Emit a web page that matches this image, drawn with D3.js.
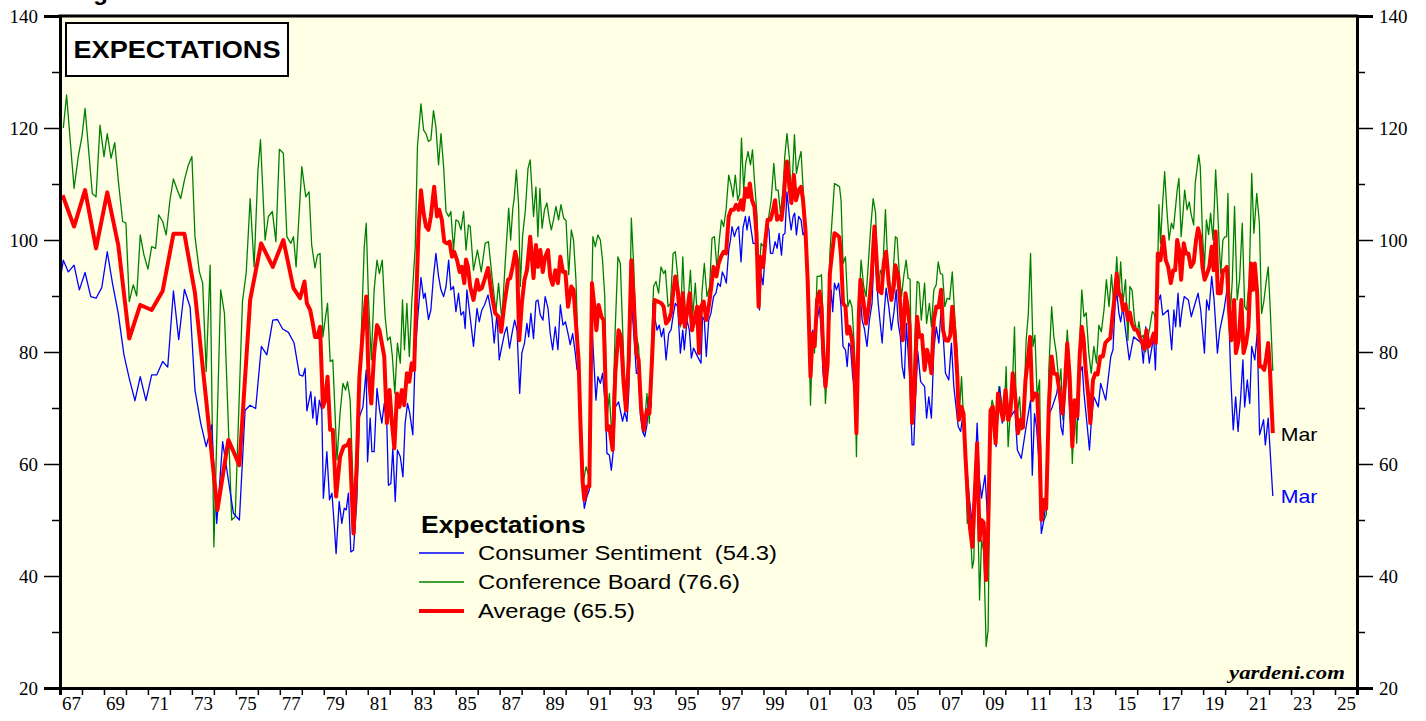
<!DOCTYPE html>
<html>
<head>
<meta charset="utf-8">
<script src="https://cdn.jsdelivr.net/npm/d3@7"></script>
<style>
  body { margin: 0; background: #fff; }
  svg { display: block; }
</style>
</head>
<body>
<svg id="chart" width="1426" height="721"></svg>
<script>
// Consumer Sentiment expectations, [year, value]
const sentiment = [
  [1967.0,92.6],[1967.15,96.4],[1967.38,94.3],[1967.64,95.5],[1967.88,91.1],[1968.14,94.2],[1968.4,89.9],[1968.64,89.6],[1968.9,91.5],
  [1969.15,97.9],[1969.4,92.0],[1969.65,86.9],[1969.91,79.5],[1970.15,75.3],[1970.41,71.3],[1970.65,75.6],[1970.91,71.3],
  [1971.17,75.9],[1971.4,75.9],[1971.67,78.3],[1971.9,77.3],[1972.16,90.9],[1972.4,82.2],[1972.66,91.2],[1972.92,88.0],
  [1973.14,73.2],[1973.4,67.3],[1973.65,63.1],[1973.9,67.0],[1974.13,49.4],[1974.4,64.0],[1974.66,57.1],[1974.89,51.2],
  [1975.16,50.0],[1975.42,69.6],[1975.65,70.5],[1975.9,69.9],[1976.16,81.0],[1976.41,79.5],[1976.68,85.7],[1976.89,85.8],
  [1977.13,84.1],[1977.39,83.5],[1977.65,81.6],[1977.89,75.9],[1978.05,75.7],[1978.15,77.1],[1978.23,69.5],[1978.41,72.9],
  [1978.5,68.2],[1978.6,72.0],[1978.68,67.0],[1978.8,71.4],[1978.91,69.6],[1978.98,53.9],[1979.14,62.2],[1979.26,53.6],
  [1979.37,54.8],[1979.47,49.4],[1979.56,44.0],[1979.7,53.3],[1979.82,49.4],[1979.93,52.1],[1980.02,51.8],[1980.12,54.8],
  [1980.23,44.3],[1980.35,44.6],[1980.5,53.3],[1980.62,68.4],[1980.78,70.2],[1980.93,76.8],[1980.99,60.4],[1981.11,68.2],
  [1981.19,62.2],[1981.29,62.2],[1981.42,73.5],[1981.53,69.9],[1981.64,67.3],[1981.75,70.8],[1981.87,66.7],[1981.94,56.2],
  [1982.05,56.5],[1982.14,62.8],[1982.25,53.3],[1982.35,62.5],[1982.48,61.3],[1982.6,57.7],[1982.7,67.3],[1982.81,70.8],
  [1982.9,69.3],[1983.05,65.2],[1983.16,79.8],[1983.26,85.4],[1983.42,93.3],[1983.54,89.6],[1983.61,90.5],[1983.76,85.8],
  [1983.87,87.5],[1983.99,93.5],[1984.1,97.6],[1984.22,93.5],[1984.33,91.1],[1984.45,89.9],[1984.56,91.7],[1984.68,96.4],
  [1984.78,91.1],[1984.9,91.7],[1985.01,87.2],[1985.13,90.5],[1985.24,86.6],[1985.36,87.2],[1985.43,84.2],[1985.51,91.1],
  [1985.62,87.5],[1985.81,81.0],[1985.97,87.8],[1986.07,85.4],[1986.19,87.5],[1986.31,88.4],[1986.47,90.2],[1986.65,86.3],
  [1986.75,81.6],[1986.88,86.9],[1986.98,78.6],[1987.1,81.0],[1987.22,83.3],[1987.33,84.5],[1987.45,80.7],[1987.56,83.3],
  [1987.68,85.7],[1987.79,83.9],[1987.91,72.6],[1988.01,79.8],[1988.13,81.6],[1988.24,85.1],[1988.32,82.7],[1988.42,86.9],
  [1988.54,82.4],[1988.65,89.0],[1988.74,89.3],[1988.85,86.6],[1988.97,85.7],[1989.07,89.9],[1989.2,87.8],[1989.3,83.3],
  [1989.41,80.4],[1989.53,84.5],[1989.65,80.4],[1989.76,88.4],[1989.88,84.8],[1989.99,85.4],[1990.11,83.3],[1990.21,81.3],
  [1990.32,83.3],[1990.44,79.8],[1990.52,76.8],[1990.59,77.4],[1990.67,64.9],[1990.77,56.0],[1990.85,52.1],[1990.97,54.2],
  [1991.08,55.4],[1991.2,84.5],[1991.38,71.4],[1991.47,75.6],[1991.58,74.4],[1991.68,76.2],[1991.81,70.2],[1991.88,61.9],
  [1991.99,61.6],[1992.08,58.9],[1992.18,62.8],[1992.26,70.2],[1992.41,71.1],[1992.59,67.6],[1992.69,69.3],[1992.79,67.6],
  [1992.87,72.6],[1992.99,89.3],[1993.1,83.3],[1993.22,76.2],[1993.32,76.2],[1993.4,68.8],[1993.5,65.8],[1993.6,64.9],
  [1993.7,67.0],[1993.78,72.0],[1993.89,70.2],[1993.98,88.7],[1994.05,86.3],[1994.16,83.9],[1994.26,84.8],[1994.36,82.7],
  [1994.46,84.2],[1994.57,78.6],[1994.69,83.3],[1994.8,84.0],[1994.89,86.5],[1994.99,88.7],[1995.1,88.1],[1995.22,79.8],
  [1995.33,83.9],[1995.4,80.4],[1995.52,85.7],[1995.63,83.9],[1995.72,78.9],[1995.82,80.7],[1995.93,79.8],[1996.04,78.9],
  [1996.16,78.0],[1996.23,86.3],[1996.31,85.7],[1996.4,79.2],[1996.51,85.7],[1996.61,86.9],[1996.73,89.9],[1996.84,90.5],
  [1996.93,92.3],[1997.04,91.7],[1997.13,94.3],[1997.22,93.5],[1997.31,92.3],[1997.42,98.2],[1997.5,100.0],[1997.57,102.4],
  [1997.68,100.6],[1997.77,101.8],[1997.87,102.4],[1997.98,96.1],[1998.07,102.1],[1998.18,104.2],[1998.25,101.8],[1998.35,104.2],
  [1998.44,101.8],[1998.53,99.4],[1998.63,99.4],[1998.74,96.4],[1998.82,87.5],[1998.89,94.0],[1998.98,92.0],[1999.06,96.4],
  [1999.16,103.6],[1999.25,101.8],[1999.32,97.6],[1999.42,97.6],[1999.53,99.7],[1999.62,98.5],[1999.71,101.2],[1999.82,97.3],
  [1999.89,100.9],[1999.98,101.2],[2000.07,108.6],[2000.18,104.2],[2000.26,101.8],[2000.35,104.2],[2000.42,104.8],[2000.5,100.9],
  [2000.6,104.2],[2000.71,103.6],[2000.8,100.9],[2000.91,101.8],[2001.01,91.7],[2001.14,80.4],[2001.24,83.9],[2001.33,82.1],
  [2001.44,85.7],[2001.55,88.1],[2001.64,82.7],[2001.71,76.2],[2001.78,73.8],[2001.9,76.8],[2002.0,85.7],[2002.08,91.1],
  [2002.15,87.2],[2002.23,92.3],[2002.32,91.1],[2002.42,92.3],[2002.53,88.1],[2002.62,81.0],[2002.73,80.4],[2002.81,77.4],
  [2002.88,81.6],[2002.96,81.0],[2003.06,75.6],[2003.14,73.2],[2003.22,69.6],[2003.3,70.5],[2003.38,91.1],[2003.49,85.7],
  [2003.59,84.2],[2003.71,81.0],[2003.82,85.7],[2003.94,88.7],[2004.05,100.0],[2004.14,93.5],[2004.22,88.7],[2004.4,81.6],
  [2004.5,87.5],[2004.58,91.4],[2004.7,88.1],[2004.82,83.9],[2004.93,86.9],[2005.04,91.1],[2005.13,85.1],[2005.23,82.7],
  [2005.31,77.4],[2005.41,75.3],[2005.5,85.1],[2005.66,75.0],[2005.76,63.4],[2005.84,63.4],[2005.92,72.0],[2006.02,80.1],
  [2006.15,74.7],[2006.33,73.8],[2006.42,68.2],[2006.52,72.0],[2006.64,68.2],[2006.75,80.4],[2006.86,84.5],[2006.98,81.6],
  [2007.08,87.5],[2007.17,83.3],[2007.28,76.2],[2007.43,75.0],[2007.55,81.6],[2007.66,73.8],[2007.86,66.7],[2007.97,65.8],
  [2008.08,69.0],[2008.17,63.7],[2008.27,58.3],[2008.37,53.6],[2008.5,49.4],[2008.6,56.0],[2008.72,67.3],[2008.83,57.1],
  [2008.92,53.9],[2009.08,58.0],[2009.19,50.6],[2009.37,69.6],[2009.58,63.1],[2009.67,69.0],[2009.75,73.8],[2009.86,67.3],
  [2010.05,70.2],[2010.24,68.4],[2010.44,69.6],[2010.55,62.5],[2010.73,61.0],[2010.95,66.7],[2011.15,71.4],[2011.23,58.0],
  [2011.33,69.0],[2011.42,66.7],[2011.52,61.3],[2011.64,47.6],[2011.73,49.4],[2011.83,52.4],[2012.01,69.0],[2012.14,70.2],
  [2012.34,72.6],[2012.41,74.4],[2012.53,66.7],[2012.62,65.2],[2012.82,79.2],[2012.93,69.0],[2013.05,63.7],[2013.16,70.2],
  [2013.32,67.9],[2013.39,76.2],[2013.5,77.4],[2013.58,72.6],[2013.7,67.9],[2013.83,62.5],[2013.91,67.3],[2014.03,72.0],
  [2014.23,70.2],[2014.34,74.4],[2014.57,71.4],[2014.8,79.2],[2014.9,80.4],[2014.99,88.1],[2015.07,90.8],[2015.17,86.9],
  [2015.25,85.4],[2015.35,88.1],[2015.45,84.5],[2015.64,78.6],[2015.84,82.7],[2016.19,81.6],[2016.28,78.0],[2016.39,84.5],
  [2016.55,78.0],[2016.75,82.7],[2016.83,76.8],[2016.93,88.7],[2017.06,90.2],[2017.16,86.6],[2017.41,87.5],[2017.57,80.4],
  [2017.67,87.5],[2017.75,84.5],[2017.86,90.5],[2017.95,84.5],[2018.04,87.5],[2018.14,89.9],[2018.33,89.3],[2018.46,86.3],
  [2018.77,90.5],[2018.89,87.5],[2019.06,79.8],[2019.16,89.3],[2019.27,87.5],[2019.39,93.5],[2019.5,89.3],[2019.65,79.8],
  [2019.76,83.9],[2019.95,87.5],[2020.13,92.3],[2020.25,76.2],[2020.37,66.1],[2020.48,72.0],[2020.59,65.8],[2020.71,72.0],
  [2020.81,78.6],[2020.89,70.2],[2021.01,75.0],[2021.12,70.8],[2021.21,81.0],[2021.35,78.6],[2021.46,83.3],[2021.57,65.2],
  [2021.75,67.9],[2021.83,63.4],[2021.96,68.2],[2022.17,54.3]
];

// Conference Board expectations, [year, value]
const board = [
  [1967.15,120.0],[1967.3,125.9],[1967.64,109.2],[1967.83,114.9],[1968.0,118.5],[1968.14,123.5],[1968.47,108.3],[1968.64,107.7],
  [1968.82,120.5],[1969.0,114.9],[1969.15,119.0],[1969.32,114.6],[1969.49,117.4],[1969.65,110.7],[1969.85,103.3],[1970.0,103.0],
  [1970.15,89.0],[1970.33,92.0],[1970.49,90.0],[1970.65,100.9],[1970.82,97.3],[1971.0,94.8],[1971.17,98.8],[1971.35,98.5],
  [1971.49,104.5],[1971.67,103.3],[1971.83,100.9],[1972.0,107.1],[1972.16,110.9],[1972.34,108.9],[1972.49,107.4],[1972.66,110.7],
  [1972.84,113.4],[1973.0,114.9],[1973.14,100.6],[1973.34,94.3],[1973.49,92.3],[1973.65,76.5],[1973.83,95.5],[1974.0,45.2],
  [1974.31,91.1],[1974.48,86.9],[1974.81,50.0],[1974.97,50.6],[1975.3,89.0],[1975.47,94.1],[1975.65,107.4],[1975.83,95.2],
  [1976.0,112.2],[1976.12,117.9],[1976.33,100.0],[1976.48,104.2],[1976.66,105.1],[1976.82,99.7],[1976.98,116.2],[1977.16,115.5],
  [1977.32,100.6],[1977.5,99.4],[1977.62,100.6],[1977.74,95.2],[1978.0,113.1],[1978.18,107.7],[1978.33,108.6],[1978.45,99.1],
  [1978.6,95.0],[1978.71,97.3],[1978.83,97.6],[1978.96,82.7],[1979.06,85.7],[1979.17,88.7],[1979.29,78.3],[1979.41,78.6],
  [1979.6,60.7],[1979.74,69.1],[1979.87,74.4],[1979.99,73.2],[1980.08,74.7],[1980.2,71.4],[1980.4,47.6],[1980.53,64.3],
  [1980.69,81.6],[1980.84,98.8],[1980.93,103.0],[1981.03,89.9],[1981.16,78.6],[1981.29,91.1],[1981.42,96.4],[1981.53,94.0],
  [1981.66,96.4],[1981.79,86.3],[1981.9,82.1],[1982.02,82.7],[1982.12,79.2],[1982.23,72.6],[1982.35,81.6],[1982.48,78.0],
  [1982.58,89.3],[1982.67,80.4],[1982.78,88.7],[1982.89,79.2],[1983.0,88.7],[1983.16,98.8],[1983.26,116.7],[1983.42,124.3],
  [1983.54,119.6],[1983.65,119.0],[1983.76,117.6],[1983.87,117.9],[1983.99,123.1],[1984.1,120.2],[1984.22,113.4],[1984.33,119.0],
  [1984.45,113.1],[1984.56,105.1],[1984.68,104.2],[1984.78,105.1],[1984.9,98.2],[1985.01,103.6],[1985.13,103.3],[1985.24,101.8],
  [1985.36,105.1],[1985.47,98.2],[1985.58,102.7],[1985.66,102.4],[1985.81,94.6],[1985.99,98.2],[1986.16,94.3],[1986.34,99.4],
  [1986.49,99.7],[1986.65,93.5],[1986.83,87.2],[1986.95,92.3],[1987.1,85.7],[1987.26,96.4],[1987.41,105.7],[1987.5,100.0],
  [1987.6,105.7],[1987.66,107.4],[1987.76,112.5],[1987.86,106.3],[1987.94,91.7],[1988.04,100.6],[1988.17,105.4],[1988.29,112.8],
  [1988.39,114.3],[1988.54,104.2],[1988.65,109.5],[1988.74,100.6],[1988.83,109.2],[1988.93,102.1],[1989.04,105.4],[1989.15,106.6],
  [1989.26,103.6],[1989.35,101.8],[1989.45,103.6],[1989.56,106.0],[1989.68,103.6],[1989.79,106.3],[1989.91,103.9],[1990.02,103.5],
  [1990.14,93.8],[1990.26,101.8],[1990.36,100.0],[1990.47,92.9],[1990.59,77.4],[1990.67,68.4],[1990.82,57.1],[1990.93,59.5],
  [1991.05,58.0],[1991.17,85.7],[1991.24,100.6],[1991.35,98.8],[1991.47,100.9],[1991.58,100.0],[1991.68,96.4],[1991.78,90.0],
  [1991.88,67.9],[1991.99,72.6],[1992.11,64.3],[1992.26,84.5],[1992.38,97.0],[1992.49,95.8],[1992.59,84.5],[1992.69,73.8],
  [1992.79,69.6],[1992.9,83.3],[1992.99,103.9],[1993.1,95.2],[1993.2,83.3],[1993.32,81.0],[1993.43,71.4],[1993.55,65.5],
  [1993.7,72.6],[1993.81,67.3],[1993.9,79.8],[1994.0,91.7],[1994.11,92.6],[1994.23,90.5],[1994.34,95.2],[1994.46,94.0],
  [1994.54,94.6],[1994.66,88.1],[1994.77,88.7],[1994.89,97.6],[1994.99,97.9],[1995.1,93.5],[1995.22,84.5],[1995.33,97.0],
  [1995.45,85.7],[1995.55,88.1],[1995.68,94.6],[1995.78,86.3],[1995.9,92.3],[1996.01,85.1],[1996.13,81.0],[1996.2,90.5],
  [1996.31,95.8],[1996.43,89.9],[1996.55,91.7],[1996.66,100.3],[1996.77,100.6],[1996.89,94.6],[1996.99,100.0],[1997.09,103.6],
  [1997.19,102.4],[1997.3,105.4],[1997.42,111.6],[1997.53,109.8],[1997.62,107.7],[1997.72,111.6],[1997.83,107.1],[1997.92,108.3],
  [1998.0,118.2],[1998.1,108.9],[1998.19,113.7],[1998.3,115.8],[1998.41,113.4],[1998.5,116.1],[1998.6,110.1],[1998.71,104.2],
  [1998.78,92.3],[1998.89,99.4],[1999.01,98.8],[1999.13,100.0],[1999.24,104.2],[1999.35,107.1],[1999.47,113.7],[1999.57,108.9],
  [1999.67,108.9],[1999.77,104.8],[1999.89,108.9],[1999.97,114.9],[2000.07,119.0],[2000.18,114.6],[2000.27,107.1],[2000.41,118.8],
  [2000.5,111.9],[2000.6,114.0],[2000.71,115.8],[2000.8,109.5],[2000.91,103.0],[2001.01,92.9],[2001.14,70.5],[2001.24,83.3],
  [2001.32,79.8],[2001.44,93.5],[2001.55,93.5],[2001.64,93.8],[2001.71,85.7],[2001.82,70.8],[2001.92,78.6],[2002.02,97.6],
  [2002.12,103.6],[2002.23,110.1],[2002.35,109.8],[2002.46,109.5],[2002.53,107.1],[2002.62,95.8],[2002.73,97.0],[2002.84,88.1],
  [2002.93,89.3],[2003.03,88.0],[2003.14,80.4],[2003.23,61.3],[2003.34,88.1],[2003.44,96.4],[2003.56,91.7],[2003.67,89.9],
  [2003.76,95.2],[2003.87,101.8],[2003.99,107.4],[2004.1,104.8],[2004.22,91.1],[2004.32,94.6],[2004.42,94.0],[2004.55,105.4],
  [2004.65,95.8],[2004.78,89.3],[2004.88,92.9],[2005.0,100.6],[2005.08,100.3],[2005.18,94.0],[2005.28,89.9],[2005.38,93.5],
  [2005.49,96.4],[2005.58,93.2],[2005.67,93.0],[2005.76,67.9],[2005.87,80.4],[2005.99,92.6],[2006.08,92.3],[2006.18,85.7],
  [2006.33,92.3],[2006.42,85.1],[2006.55,88.7],[2006.64,84.5],[2006.75,91.1],[2006.86,92.0],[2006.95,96.1],[2007.05,94.0],
  [2007.15,93.8],[2007.25,88.1],[2007.36,89.6],[2007.47,89.4],[2007.59,94.3],[2007.71,85.7],[2007.82,79.8],[2007.89,67.9],
  [2008.01,75.6],[2008.09,69.0],[2008.19,61.9],[2008.27,49.4],[2008.37,51.2],[2008.5,41.4],[2008.57,42.9],[2008.69,63.1],
  [2008.83,35.7],[2008.92,46.4],[2009.02,44.5],[2009.13,27.4],[2009.22,30.4],[2009.33,69.0],[2009.4,71.4],[2009.49,70.0],
  [2009.58,65.5],[2009.71,73.8],[2009.8,72.0],[2009.94,67.9],[2010.04,77.4],[2010.13,63.1],[2010.24,70.0],[2010.34,75.6],
  [2010.42,84.5],[2010.51,67.9],[2010.65,72.0],[2010.74,66.1],[2010.84,70.0],[2010.95,82.1],[2011.05,86.9],[2011.15,97.6],
  [2011.26,81.0],[2011.35,83.0],[2011.45,72.0],[2011.56,75.0],[2011.64,50.6],[2011.76,50.0],[2011.87,51.0],[2011.98,76.8],
  [2012.11,88.1],[2012.21,82.7],[2012.32,79.8],[2012.45,74.0],[2012.53,77.0],[2012.62,67.9],[2012.71,76.2],[2012.82,83.9],
  [2012.93,77.0],[2013.05,60.1],[2013.16,71.4],[2013.25,63.7],[2013.39,82.1],[2013.48,91.1],[2013.58,86.3],[2013.68,87.0],
  [2013.8,79.8],[2013.91,76.2],[2014.03,81.0],[2014.15,78.0],[2014.26,84.8],[2014.37,83.6],[2014.49,87.5],[2014.6,92.9],
  [2014.72,88.1],[2014.83,93.8],[2014.95,88.0],[2015.07,97.0],[2015.17,89.9],[2015.25,96.1],[2015.35,88.7],[2015.47,92.9],
  [2015.58,82.1],[2015.67,91.7],[2015.77,91.0],[2015.88,85.7],[2016.0,83.3],[2016.08,85.4],[2016.18,82.5],[2016.28,83.0],
  [2016.38,80.0],[2016.48,82.5],[2016.58,84.5],[2016.69,87.2],[2016.78,86.8],[2016.88,84.5],[2016.99,106.3],[2017.06,99.4],
  [2017.15,106.0],[2017.25,112.2],[2017.34,106.0],[2017.45,100.0],[2017.56,103.0],[2017.65,102.0],[2017.75,106.0],[2017.82,108.9],
  [2017.9,111.0],[2018.0,100.6],[2018.08,104.5],[2018.16,108.9],[2018.27,105.4],[2018.37,106.8],[2018.46,104.5],[2018.57,102.7],
  [2018.64,110.1],[2018.8,115.2],[2018.87,113.1],[2018.97,101.2],[2019.06,94.9],[2019.15,103.6],[2019.25,101.0],[2019.34,104.8],
  [2019.45,100.0],[2019.57,112.5],[2019.65,106.3],[2019.72,100.0],[2019.8,94.0],[2019.9,100.0],[2019.98,100.5],[2020.07,100.6],
  [2020.13,108.3],[2020.22,85.7],[2020.33,93.0],[2020.43,106.0],[2020.55,89.3],[2020.66,93.0],[2020.78,103.0],[2020.89,88.1],
  [2020.98,87.5],[2021.1,93.0],[2021.21,111.9],[2021.31,101.2],[2021.44,108.3],[2021.56,103.0],[2021.66,86.9],[2021.76,89.0],
  [2021.86,92.3],[2021.96,95.2],[2022.05,88.0],[2022.17,76.6]
];

// Average of the two, [year, value]
const average = [
  [1967.12,108.0],[1967.64,102.4],[1968.14,108.9],[1968.64,98.5],[1969.15,108.5],[1969.65,99.1],[1970.15,82.4],[1970.65,88.4],
  [1971.17,87.5],[1971.67,90.9],[1972.16,101.1],[1972.66,101.1],[1973.14,90.5],[1973.65,71.4],[1974.16,51.8],[1974.66,64.3],
  [1975.16,59.8],[1975.65,89.3],[1976.15,99.4],[1976.68,95.2],[1977.16,100.0],[1977.62,91.4],[1977.92,89.6],[1978.12,92.6],
  [1978.23,88.7],[1978.38,87.5],[1978.5,85.1],[1978.6,82.7],[1978.71,82.7],[1978.83,84.5],[1978.96,70.2],[1979.06,71.4],
  [1979.17,75.6],[1979.29,66.1],[1979.41,66.1],[1979.56,54.2],[1979.74,61.3],[1979.9,63.1],[1980.08,63.4],[1980.17,64.3],
  [1980.35,47.6],[1980.5,60.1],[1980.62,75.6],[1980.78,83.9],[1980.93,89.9],[1981.03,76.2],[1981.16,70.8],[1981.29,79.8],
  [1981.42,84.8],[1981.53,83.9],[1981.64,81.6],[1981.75,79.2],[1981.87,67.3],[1981.99,73.2],[1982.1,67.3],[1982.21,62.8],
  [1982.33,72.6],[1982.44,70.2],[1982.55,73.2],[1982.66,70.5],[1982.78,76.2],[1982.89,74.7],[1983.0,78.0],[1983.11,76.8],
  [1983.2,88.7],[1983.31,101.8],[1983.42,108.9],[1983.54,104.8],[1983.65,102.4],[1983.76,101.8],[1983.87,104.2],[1984.02,109.5],
  [1984.15,104.2],[1984.25,105.4],[1984.37,103.6],[1984.48,99.7],[1984.6,99.4],[1984.72,99.7],[1984.83,97.0],[1984.93,97.9],
  [1985.06,96.4],[1985.18,94.3],[1985.28,95.2],[1985.39,92.3],[1985.47,96.5],[1985.56,95.2],[1985.66,91.7],[1985.81,89.3],
  [1985.97,92.9],[1986.07,91.1],[1986.19,91.4],[1986.31,92.9],[1986.47,95.0],[1986.65,89.9],[1986.8,86.9],[1986.95,86.3],
  [1987.07,83.6],[1987.22,88.7],[1987.38,92.9],[1987.48,93.2],[1987.59,95.2],[1987.71,97.9],[1987.79,96.4],[1987.89,82.1],
  [1988.01,88.7],[1988.13,92.9],[1988.24,94.6],[1988.39,100.6],[1988.54,93.2],[1988.65,99.1],[1988.74,95.2],[1988.85,98.2],
  [1988.96,94.3],[1989.07,97.0],[1989.2,98.2],[1989.3,93.5],[1989.41,92.0],[1989.53,94.6],[1989.65,92.3],[1989.76,97.0],
  [1989.88,94.3],[1989.99,94.3],[1990.11,88.1],[1990.26,91.7],[1990.36,91.1],[1990.47,85.1],[1990.59,78.6],[1990.67,67.9],
  [1990.77,57.1],[1990.85,53.6],[1990.97,56.0],[1991.08,56.0],[1991.2,92.3],[1991.31,88.1],[1991.4,83.9],[1991.5,88.4],
  [1991.63,86.3],[1991.73,85.7],[1991.88,66.1],[1991.99,66.7],[1992.14,62.5],[1992.26,76.2],[1992.41,83.9],[1992.52,82.7],
  [1992.64,74.4],[1992.75,69.6],[1992.87,78.6],[1992.99,96.4],[1993.1,89.3],[1993.22,79.8],[1993.32,78.6],[1993.43,70.2],
  [1993.55,66.1],[1993.7,69.6],[1993.81,69.0],[1993.93,78.6],[1994.05,89.3],[1994.2,89.0],[1994.36,88.7],[1994.46,88.1],
  [1994.57,85.1],[1994.69,85.7],[1994.8,87.0],[1994.89,90.5],[1994.99,93.5],[1995.1,91.1],[1995.22,85.1],[1995.33,90.5],
  [1995.42,84.5],[1995.52,86.9],[1995.64,90.5],[1995.75,83.9],[1995.86,85.7],[1995.98,88.1],[1996.07,79.8],[1996.16,88.1],
  [1996.28,89.0],[1996.4,85.7],[1996.51,88.1],[1996.61,91.1],[1996.73,95.2],[1996.86,93.5],[1996.96,95.8],[1997.07,97.0],
  [1997.19,97.9],[1997.3,97.6],[1997.42,104.2],[1997.53,105.4],[1997.65,105.4],[1997.76,106.3],[1997.87,105.4],[1997.98,107.1],
  [1998.07,105.4],[1998.18,109.2],[1998.29,107.7],[1998.38,110.1],[1998.48,107.1],[1998.59,105.9],[1998.68,101.2],[1998.78,88.1],
  [1998.86,97.0],[1998.98,95.2],[1999.09,100.0],[1999.19,103.6],[1999.32,103.6],[1999.44,105.4],[1999.53,107.1],[1999.62,103.6],
  [1999.73,104.2],[1999.82,103.6],[1999.92,107.1],[2000.0,111.9],[2000.07,114.0],[2000.18,109.5],[2000.27,106.6],[2000.38,111.6],
  [2000.48,107.1],[2000.6,108.9],[2000.71,109.5],[2000.8,107.1],[2000.91,101.8],[2001.01,92.9],[2001.14,75.6],[2001.24,83.3],
  [2001.33,81.0],[2001.44,89.3],[2001.55,90.8],[2001.64,88.1],[2001.71,81.0],[2001.82,73.8],[2001.92,78.0],[2002.02,94.0],
  [2002.12,97.6],[2002.23,101.2],[2002.35,100.9],[2002.45,100.5],[2002.53,97.0],[2002.62,88.7],[2002.73,88.1],[2002.81,83.3],
  [2002.91,84.5],[2003.03,82.1],[2003.14,76.2],[2003.23,65.5],[2003.34,86.9],[2003.41,92.9],[2003.54,89.3],[2003.67,85.1],
  [2003.79,88.1],[2003.91,92.9],[2004.05,102.4],[2004.14,97.0],[2004.22,91.1],[2004.37,90.5],[2004.47,95.8],[2004.58,97.9],
  [2004.7,92.3],[2004.82,89.3],[2004.93,91.7],[2005.0,95.5],[2005.13,93.5],[2005.23,88.1],[2005.34,82.1],[2005.46,90.5],
  [2005.56,88.1],[2005.65,84.5],[2005.76,67.3],[2005.87,72.6],[2005.99,86.3],[2006.09,82.7],[2006.21,83.0],[2006.33,76.8],
  [2006.44,80.4],[2006.55,78.6],[2006.64,76.2],[2006.75,85.7],[2006.86,88.1],[2006.97,88.0],[2007.08,91.1],[2007.17,83.9],
  [2007.28,82.1],[2007.4,82.0],[2007.5,83.0],[2007.59,88.1],[2007.71,82.7],[2007.82,75.6],[2007.89,67.9],[2008.01,70.2],
  [2008.1,69.0],[2008.19,61.3],[2008.3,53.6],[2008.39,48.8],[2008.5,45.2],[2008.57,51.2],[2008.72,63.7],[2008.83,46.4],
  [2008.92,50.0],[2009.02,49.5],[2009.13,39.3],[2009.22,48.2],[2009.33,69.6],[2009.43,70.2],[2009.56,63.7],[2009.67,72.6],
  [2009.78,70.0],[2009.9,67.9],[2010.01,73.2],[2010.13,67.9],[2010.23,69.0],[2010.34,76.2],[2010.47,71.4],[2010.58,65.5],
  [2010.7,67.9],[2010.8,66.5],[2010.92,75.0],[2011.03,78.6],[2011.13,82.7],[2011.23,71.4],[2011.33,72.6],[2011.45,72.5],
  [2011.56,63.1],[2011.64,50.0],[2011.76,53.6],[2011.86,52.0],[2011.98,70.2],[2012.11,79.2],[2012.21,76.2],[2012.35,76.0],
  [2012.48,72.6],[2012.6,69.0],[2012.71,74.0],[2012.82,81.6],[2012.93,75.6],[2013.05,63.1],[2013.16,71.4],[2013.28,68.5],
  [2013.39,79.8],[2013.48,84.5],[2013.56,82.5],[2013.66,76.8],[2013.78,72.0],[2013.87,67.3],[2013.99,75.0],[2014.1,76.2],
  [2014.2,76.0],[2014.32,79.2],[2014.44,79.2],[2014.55,81.6],[2014.66,82.1],[2014.78,82.5],[2014.89,86.9],[2014.99,90.5],
  [2015.07,94.0],[2015.17,90.5],[2015.26,90.0],[2015.36,87.5],[2015.47,88.5],[2015.58,85.7],[2015.67,87.0],[2015.76,85.1],
  [2015.88,84.0],[2016.0,83.9],[2016.12,82.7],[2016.23,81.6],[2016.33,80.5],[2016.42,83.9],[2016.52,81.0],[2016.62,81.6],
  [2016.75,83.3],[2016.85,81.6],[2016.94,97.6],[2017.06,96.4],[2017.19,100.6],[2017.3,96.4],[2017.41,95.2],[2017.53,92.3],
  [2017.64,94.6],[2017.73,94.6],[2017.82,100.0],[2017.91,98.2],[2018.0,92.9],[2018.12,99.4],[2018.22,97.6],[2018.33,97.6],
  [2018.44,95.2],[2018.57,96.0],[2018.68,100.0],[2018.77,102.1],[2018.87,100.6],[2018.97,95.2],[2019.07,92.9],[2019.18,94.0],
  [2019.28,95.2],[2019.39,98.8],[2019.48,94.6],[2019.57,101.5],[2019.67,90.5],[2019.8,90.5],[2019.9,94.6],[2019.98,94.6],
  [2020.08,95.2],[2020.19,86.9],[2020.28,82.1],[2020.41,89.3],[2020.49,79.8],[2020.62,82.1],[2020.74,89.3],[2020.84,79.8],
  [2020.95,81.5],[2021.06,84.5],[2021.18,95.8],[2021.27,91.1],[2021.35,95.8],[2021.46,90.5],[2021.57,77.4],[2021.67,77.4],
  [2021.78,76.8],[2021.87,79.0],[2021.96,81.6],[2022.04,76.8],[2022.17,65.5]
];

const yTicks = [20, 40, 60, 80, 100, 120, 140];
const yMinor = [30, 50, 70, 90, 110, 130];
const yearTicks = d3.range(1967, 2027);
const yearLabels = d3.range(1967, 2026, 2);
const legendItems = ["Consumer Sentiment  (54.3)", "Conference Board (76.6)", "Average (65.5)"];
const legendColors = ["#0000ff", "#008000", "#ff0000"];
const legendWidths = [1.3, 1.3, 4];

const svg = d3.select("#chart");
const plotL = 60, plotR = 1357, plotT = 16, plotB = 688;

const x = d3.scaleLinear().domain([1967, 2026]).range([plotL, plotR]);
const y = d3.scaleLinear().domain([20, 140]).range([plotB, plotT]);

const sans = "'Liberation Sans', Arial, sans-serif";
const serif = "'Liberation Serif', 'Times New Roman', serif";

// the source art uses a slightly wide face, so stretch text horizontally
function widen(sel, k) {
  sel.each(function () {
    const w = this.getComputedTextLength();
    d3.select(this).attr("textLength", w * k).attr("lengthAdjust", "spacingAndGlyphs");
  });
}

// plot background
svg.append("rect")
  .attr("x", plotL).attr("y", plotT)
  .attr("width", plotR - plotL).attr("height", plotB - plotT)
  .attr("fill", "#ffffe6");

// cut-off heading at the very top
svg.append("text")
  .attr("x", 72).attr("y", 0)
  .attr("font-family", sans).attr("font-weight", "bold").attr("font-size", 24)
  .text("Figure 7.");

svg.append("clipPath").attr("id", "plotclip")
  .append("rect").attr("x", plotL).attr("y", plotT)
  .attr("width", plotR - plotL).attr("height", plotB - plotT);

const line = d3.line().x(d => x(d[0])).y(d => y(d[1]));
const plot = svg.append("g").attr("clip-path", "url(#plotclip)");

plot.append("path").datum(board)
  .attr("fill", "none").attr("stroke", "#008000").attr("stroke-width", 1.3)
  .attr("stroke-linejoin", "round").attr("d", line);

plot.append("path").datum(sentiment)
  .attr("fill", "none").attr("stroke", "#0000ff").attr("stroke-width", 1.3)
  .attr("stroke-linejoin", "round").attr("d", line);

plot.append("path").datum(average)
  .attr("fill", "none").attr("stroke", "#ff0000").attr("stroke-width", 4)
  .attr("stroke-linejoin", "round").attr("d", line);

// axes
function styleAxis(g) {
  g.selectAll("path.domain").attr("stroke", "#000").attr("stroke-width", 3);
  g.selectAll(".tick line").attr("stroke", "#000").attr("stroke-width", 1.5);
  g.selectAll(".tick text").attr("font-family", serif).attr("font-size", 19).attr("fill", "#000");
}

svg.append("g").attr("transform", `translate(${plotL},0)`)
  .call(d3.axisLeft(y).tickValues(yMinor).tickSize(8).tickFormat(""))
  .call(styleAxis);
svg.append("g").attr("transform", `translate(${plotL},0)`)
  .call(d3.axisLeft(y).tickValues(yTicks).tickSize(16).tickPadding(6))
  .call(styleAxis);

svg.append("g").attr("transform", `translate(${plotR},0)`)
  .call(d3.axisRight(y).tickValues(yMinor).tickSize(8).tickFormat(""))
  .call(styleAxis);
svg.append("g").attr("transform", `translate(${plotR},0)`)
  .call(d3.axisRight(y).tickValues(yTicks).tickSize(16).tickPadding(6))
  .call(styleAxis);

svg.append("g").attr("transform", `translate(0,${plotB})`)
  .call(d3.axisBottom(x).tickValues(yearTicks).tickSize(7).tickFormat(""))
  .call(styleAxis);
svg.append("g").attr("transform", `translate(0,${plotB})`)
  .call(d3.axisBottom(x).tickValues(yearLabels.map(v => v + 0.5)).tickSize(0).tickPadding(9)
    .tickFormat(d => String(Math.floor(d) % 100).padStart(2, "0")))
  .call(g => g.select("path.domain").remove())
  .call(styleAxis);

// top border
svg.append("line")
  .attr("x1", plotL - 1.5).attr("x2", plotR + 1.5)
  .attr("y1", plotT).attr("y2", plotT)
  .attr("stroke", "#000").attr("stroke-width", 3);

// title box
svg.append("rect")
  .attr("x", 66).attr("y", 23).attr("width", 222).attr("height", 53)
  .attr("fill", "#fff").attr("stroke", "#000").attr("stroke-width", 2);
svg.append("text")
  .attr("x", 177).attr("y", 58).attr("text-anchor", "middle")
  .attr("font-family", sans).attr("font-weight", "bold").attr("font-size", 23)
  .text("EXPECTATIONS")
  .call(widen, 1.18);

// legend
svg.append("text")
  .attr("x", 421).attr("y", 533)
  .attr("font-family", sans).attr("font-weight", "bold").attr("font-size", 23)
  .text("Expectations")
  .call(widen, 1.15);

const legend = svg.append("g").selectAll("g")
  .data(legendItems).join("g")
  .attr("transform", (d, i) => `translate(419,${553 + i * 29})`);
legend.append("line")
  .attr("x1", 0).attr("x2", 45)
  .attr("stroke", (d, i) => legendColors[i])
  .attr("stroke-width", (d, i) => legendWidths[i]);
legend.append("text")
  .attr("x", 59).attr("y", 7)
  .attr("xml:space", "preserve").style("white-space", "pre")
  .attr("font-family", sans).attr("font-size", 20)
  .text(d => d)
  .call(widen, 1.19);

// end labels
const last = arr => arr[arr.length - 1];
svg.append("text")
  .attr("x", x(last(average)[0]) + 8).attr("y", y(last(average)[1]) + 8)
  .attr("font-family", sans).attr("font-size", 19).attr("fill", "#000")
  .text("Mar")
  .call(widen, 1.12);
svg.append("text")
  .attr("x", x(last(sentiment)[0]) + 8).attr("y", y(last(sentiment)[1]) + 7)
  .attr("font-family", sans).attr("font-size", 19).attr("fill", "#0000ff")
  .text("Mar")
  .call(widen, 1.12);

// source
svg.append("text")
  .attr("x", 1345).attr("y", 679).attr("text-anchor", "end")
  .attr("font-family", serif).attr("font-weight", "bold").attr("font-style", "italic")
  .attr("font-size", 19)
  .text("yardeni.com")
  .call(widen, 1.2);
</script>
</body>
</html>
